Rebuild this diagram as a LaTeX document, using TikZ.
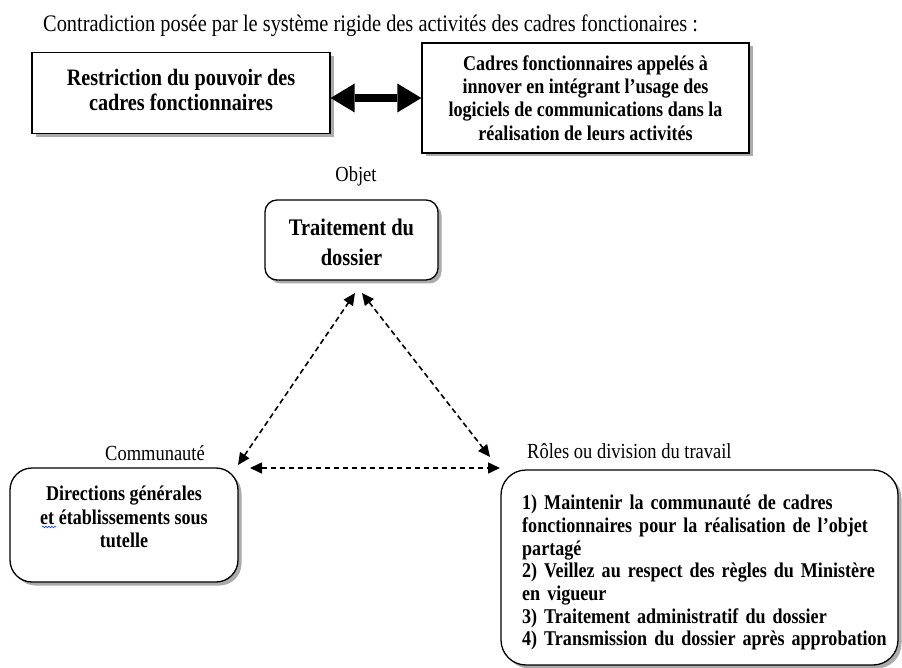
\documentclass[tikz,border=0pt]{standalone}
\usepackage{fontspec}
\setmainfont{Liberation Serif}[FakeStretch=0.86]
\usetikzlibrary{arrows.meta,shadows,decorations.pathmorphing}
\newcommand\titlefont{\fontsize{23.7}{28}\selectfont}
\newcommand\lblfont{\fontsize{21.5}{26}\selectfont}
\newcommand\bodyfont{\fontsize{21}{23.3}\selectfont\bfseries}
\newcommand\jl[1]{\makebox[366pt][s]{#1}}
\tikzset{
  sqbox/.style={draw=black, line width=1.3pt, fill=white,
    drop shadow={shadow xshift=3.5pt, shadow yshift=-3.5pt, fill=black!55, opacity=0.6}},
  rbox/.style={sqbox, rounded corners=#1},
  boxtext/.style={align=center, inner sep=0pt, font=\bodyfont},
  lbl/.style={inner sep=0pt, font=\lblfont},
  dashconn/.style={line width=1.6pt, dash pattern=on 5.5pt off 3.5pt,
    {Triangle[length=12pt,width=11pt]}-{Triangle[length=12pt,width=11pt]}},
  bigarrow/.style={line width=8pt,
    {Triangle[length=24pt,width=29pt,line width=0pt]}-{Triangle[length=24pt,width=29pt,line width=0pt]}}
}
\begin{document}
\begin{tikzpicture}[x=1pt,y=-1pt]
\fill[white] (0,0) rectangle (902,668);
\useasboundingbox (0,0) rectangle (902,668);

% title
\node[anchor=base west, inner sep=0pt, font=\titlefont] (title) at (43,32)
  {Contradiction posée par le système rigide des activités des cadres fonctionaires :};

% top boxes
\node[sqbox, minimum width=298pt, minimum height=81pt, inner sep=0pt] (b1) at (181,93) {};
\node[boxtext, font=\fontsize{23.5}{25}\selectfont\bfseries] (b1t) at (181,90) {Restriction du pouvoir des\\cadres fonctionnaires};
\node[sqbox, minimum width=327pt, minimum height=110pt, inner sep=0pt] (b2) at (585.5,98) {};
\node[boxtext] (b2t) at (585.5,98) {Cadres fonctionnaires appelés à\\innover en intégrant l’usage des\\logiciels de communications dans la\\réalisation de leurs activités};
\draw[bigarrow] (b1.east |- b2.west) -- (b2.west);

% object
\node[lbl, anchor=base] (objlbl) at (356,182) {Objet};
\node[rbox=12pt, minimum width=173pt, minimum height=80pt, inner sep=0pt] (obj) at (351.5,240) {};
\node[align=center, inner sep=0pt, font=\fontsize{23.8}{30}\selectfont\bfseries] (objt) at (351.5,242) {Traitement du\\dossier};

% community
\node[lbl, anchor=base] (comlbl) at (155,460) {Communauté};
\node[rbox=22pt, minimum width=228pt, minimum height=114pt, inner sep=0pt] (com) at (124,525) {};
\node[boxtext, font=\fontsize{21}{23.5}\selectfont\bfseries] (comt) at (124,517) {Directions générales\\et établissements sous\\tutelle};
\draw[blue!75!cyan, line width=0.6pt, decorate, decoration={snake, amplitude=0.8pt, segment length=3pt}] (42,527) -- (56,527);

% roles
\node[lbl, anchor=base west] (rollbl) at (527,458) {Rôles ou division du travail};
\node[rbox=25pt, minimum width=397pt, minimum height=195pt, inner sep=0pt] (rol) at (699.5,567.5) {};
\node[anchor=north west, text width=366pt, align=left, inner sep=0pt,
      font=\fontsize{21}{22.7}\selectfont\bfseries] (rolt) at (522,495)
  {\jl{1) Maintenir la communauté de cadres}\\
   \jl{fonctionnaires pour la réalisation de l’objet}\\
   partagé\\
   \jl{2) Veillez au respect des règles du Ministère}\\
   en vigueur\\
   3) Traitement administratif du dossier\\
   4) Transmission du dossier après approbation};

% triangle connectors
\coordinate (apexL) at (355,293);
\coordinate (apexR) at (362,293);
\coordinate (comTip) at (238,465);
\coordinate (rolTip) at (490,457);
\coordinate (hL) at (250,468);
\coordinate (hR) at (500,468);
\draw[dashconn] (comTip) -- (apexL);
\draw[dashconn] (apexR) -- (rolTip);
\draw[dashconn] (hL) -- (hR);
\end{tikzpicture}
\end{document}
